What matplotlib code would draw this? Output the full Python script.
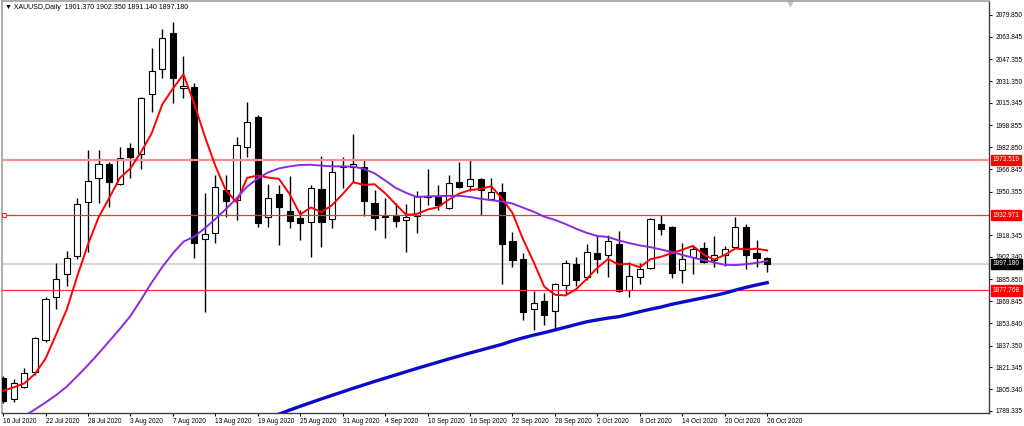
import matplotlib
matplotlib.use("Agg")
import matplotlib.pyplot as plt
import matplotlib.transforms as mtransforms
import numpy as np

plt.rcParams["font.family"] = ["Liberation Sans", "DejaVu Sans"]

# daily XAUUSD bars, 16 Jul 2020 .. 26 Oct 2020
opens = [1813.3, 1798.1, 1807.2, 1818.2, 1841.4, 1873.2, 1889.6, 1902.8, 1942.9, 1960.0,
         1970.8, 1955.6, 1982.5, 1977.6, 2021.6, 2040.2, 2066.4, 2026.0, 2027.0, 1915.3,
         1919.7, 1951.5, 1944.1, 1982.8, 2004.8, 1931.9, 1948.3, 1936.3, 1930.7, 1928.2,
         1952.2, 1929.9, 1968.1, 1968.6, 1968.1, 1941.7, 1931.4, 1932.4, 1929.5, 1932.4,
         1946.0, 1946.1, 1938.0, 1957.3, 1954.6, 1959.3, 1944.6, 1949.8, 1914.3, 1900.6,
         1863.9, 1870.0, 1862.7, 1881.8, 1897.2, 1887.4, 1905.0, 1903.5, 1911.9, 1878.1,
         1887.4, 1894.0, 1926.5, 1924.1, 1892.8, 1902.6, 1908.7, 1900.1, 1903.8, 1909.9,
         1924.6, 1905.5, 1901.37]
highs = [1815.0, 1812.6, 1820.6, 1843.4, 1873.2, 1898.2, 1906.7, 1945.8, 1980.8, 1980.8,
         1972.3, 1983.3, 1985.7, 2019.9, 2055.4, 2069.6, 2075.0, 2050.0, 2029.7, 1949.0,
         1962.5, 1962.5, 1990.6, 2015.8, 2006.5, 1955.6, 1955.1, 1961.7, 1936.8, 1955.1,
         1976.6, 1973.5, 1975.9, 1992.3, 1973.5, 1951.5, 1945.3, 1941.7, 1941.5, 1951.0,
         1966.6, 1955.1, 1962.5, 1972.3, 1973.5, 1960.0, 1960.0, 1956.3, 1920.9, 1905.0,
         1877.6, 1875.7, 1883.0, 1900.1, 1902.1, 1911.8, 1917.7, 1918.4, 1921.6, 1898.9,
         1897.7, 1930.7, 1932.9, 1925.1, 1912.8, 1910.4, 1913.6, 1917.9, 1910.4, 1931.4,
         1926.3, 1914.8, 1902.35]
lows = [1795.5, 1796.2, 1806.0, 1815.8, 1840.2, 1863.9, 1881.3, 1900.5, 1906.2, 1941.7,
        1939.2, 1955.1, 1960.0, 1966.9, 2008.9, 2033.9, 2015.0, 2019.2, 1901.3, 1862.2,
        1912.3, 1931.9, 1929.5, 1975.9, 1924.6, 1924.6, 1911.1, 1923.3, 1914.8, 1902.6,
        1909.9, 1923.3, 1952.7, 1957.6, 1932.6, 1922.1, 1916.5, 1924.6, 1906.2, 1919.7,
        1940.5, 1936.8, 1937.3, 1952.7, 1951.0, 1933.1, 1944.1, 1882.5, 1895.2, 1856.1,
        1848.8, 1852.4, 1848.8, 1875.2, 1881.3, 1885.4, 1890.3, 1887.4, 1876.9, 1873.2,
        1882.5, 1893.5, 1918.4, 1886.7, 1883.0, 1889.8, 1898.2, 1895.2, 1895.7, 1908.7,
        1893.3, 1895.2, 1891.14]
closes = [1796.9, 1810.1, 1817.5, 1842.6, 1871.5, 1885.9, 1901.3, 1940.9, 1958.1, 1970.8,
          1957.1, 1974.7, 1975.9, 2018.7, 2038.8, 2062.7, 2033.4, 2027.8, 1912.3, 1918.9,
          1953.4, 1943.6, 1984.5, 2001.6, 1927.5, 1945.8, 1938.7, 1928.7, 1927.0, 1953.2,
          1928.2, 1964.9, 1969.1, 1970.5, 1943.4, 1930.7, 1932.6, 1928.7, 1931.4, 1947.1,
          1946.8, 1940.5, 1956.3, 1953.9, 1959.3, 1951.5, 1950.2, 1911.9, 1900.1, 1862.2,
          1868.3, 1860.0, 1882.3, 1897.7, 1885.2, 1906.2, 1900.8, 1914.1, 1877.6, 1888.4,
          1893.3, 1930.2, 1922.9, 1890.8, 1900.6, 1907.9, 1898.9, 1903.8, 1907.9, 1924.6,
          1903.8, 1901.8, 1897.18]

# moving averages
ma_fast = [1804.2, 1806.7, 1809.6, 1816.5, 1827.7, 1845.5, 1863.8, 1888.4, 1911.5, 1931.4,
           1945.6, 1960.3, 1967.3, 1979.4, 1993.0, 2014.2, 2025.9, 2036.3, 2015.0, 1991.0,
           1969.2, 1951.2, 1942.5, 1960.4, 1962.1, 1960.6, 1959.6, 1948.5, 1933.5, 1938.7,
           1935.2, 1940.4, 1948.5, 1957.2, 1955.2, 1955.7, 1949.1, 1941.0, 1933.2, 1933.9,
           1937.1, 1938.9, 1944.4, 1948.9, 1951.4, 1952.3, 1954.2, 1945.4, 1934.6, 1915.2,
           1898.5, 1880.5, 1874.6, 1874.1, 1878.7, 1886.3, 1894.4, 1900.8, 1896.8, 1897.4,
           1894.8, 1900.7, 1902.5, 1905.1, 1907.6, 1910.5, 1904.2, 1900.4, 1903.8, 1908.6,
           1907.8, 1908.4, 1907.1]
ma_mid_start = 2
ma_mid = [1785.5, 1790.5, 1795.5, 1801.0, 1807.2, 1815.0, 1823.0, 1831.6, 1840.5, 1849.5,
          1859.0, 1871.0, 1883.5, 1895.0, 1905.0, 1913.6, 1917.2, 1923.3, 1930.2, 1937.5,
          1945.3, 1953.9, 1960.0, 1964.4, 1967.3, 1968.8, 1969.8, 1970.0, 1969.3, 1968.8,
          1968.8, 1968.6, 1967.0, 1963.7, 1958.5, 1953.0, 1949.3, 1946.3, 1946.8, 1947.0,
          1947.2, 1947.2, 1946.3, 1945.0, 1944.0, 1943.0, 1941.5, 1938.5, 1935.5, 1931.9,
          1929.5, 1926.5, 1923.0, 1920.0, 1917.7, 1917.0, 1914.5, 1912.5, 1910.8, 1909.5,
          1907.8, 1906.0, 1903.8, 1901.8, 1900.1, 1898.3, 1896.6, 1896.4, 1897.0, 1898.0,
          1899.4]
ma_slow_start = 26
ma_slow = [1787.0, 1790.0, 1792.8, 1795.5, 1798.2, 1800.8, 1803.4, 1806.0, 1808.5, 1811.0,
           1813.4, 1815.8, 1818.2, 1820.6, 1822.9, 1825.2, 1827.5, 1829.7, 1831.9, 1834.0,
           1836.1, 1838.2, 1840.8, 1843.0, 1845.0, 1846.8, 1848.8, 1850.8, 1852.8, 1854.8,
           1856.2, 1857.5, 1858.5, 1860.3, 1862.2, 1864.0, 1865.6, 1867.6, 1869.2, 1870.8,
           1872.4, 1874.0, 1875.8, 1878.0, 1880.0, 1881.8, 1883.5]

date_labels = ["16 Jul 2020", "22 Jul 2020", "28 Jul 2020", "3 Aug 2020", "7 Aug 2020",
               "13 Aug 2020", "19 Aug 2020", "25 Aug 2020", "31 Aug 2020", "4 Sep 2020",
               "10 Sep 2020", "16 Sep 2020", "22 Sep 2020", "28 Sep 2020", "2 Oct 2020",
               "8 Oct 2020", "14 Oct 2020", "20 Oct 2020", "26 Oct 2020"]
price_ticks = [2079.850, 2063.845, 2047.355, 2031.350, 2015.345, 1998.855, 1982.850,
               1966.845, 1950.355, 1918.345, 1902.340, 1885.850, 1869.845, 1853.840,
               1837.350, 1821.345, 1805.340, 1789.335]
level_upper = 1973.519
level_mid = 1932.971
level_lower = 1877.768
bid = 1897.180

fs = 4.7

fig = plt.figure(figsize=(10.24, 4.26), dpi=100)
ax = fig.add_axes([2 / 1024, 13.3 / 426, 987 / 1024, 411.7 / 426])

x = np.arange(len(closes))
o = np.array(opens)
c = np.array(closes)
up = c >= o

ax.vlines(x, lows, highs, color="black", lw=1.0, zorder=3)
bottoms = np.minimum(o, c)
heights = np.maximum(np.abs(c - o), 0.6)
ax.bar(x[up], heights[up], bottom=bottoms[up], width=0.58, facecolor="white",
       edgecolor="black", lw=0.8, zorder=4)
ax.bar(x[~up], heights[~up], bottom=bottoms[~up], width=0.58, facecolor="black",
       edgecolor="black", lw=0.8, zorder=4)

ax.plot(x, ma_fast, color="#ff0000", lw=1.4, zorder=6)
ax.plot(np.arange(ma_mid_start, ma_mid_start + len(ma_mid)), ma_mid, color="#8a2be2", lw=1.4, zorder=6)
ax.plot(np.arange(ma_slow_start, ma_slow_start + len(ma_slow)), ma_slow, color="#0a0acd", lw=2.4, zorder=6)

ax.axhline(bid, color="#d8d8d8", lw=1.6, zorder=1)
ax.axhline(level_upper, color="#ff8c8c", lw=1.6, zorder=5)
ax.axhline(level_mid, color="#ff3030", lw=0.9, zorder=5)
ax.axhline(level_lower, color="#ff3030", lw=0.9, zorder=5)

trans = mtransforms.blended_transform_factory(ax.transAxes, ax.transData)
ax.plot([0.002], [level_mid], marker="s", ms=3, mfc="white", mec="#ff3030", mew=0.8,
        transform=trans, clip_on=False, zorder=7)

ax.set_xlim(-0.1, 92.9)
ax.set_ylim(1788.08, 2090.12)

ax.set_xticks(x[::4])
ax.set_xticklabels(date_labels)
for lbl in ax.get_xticklabels():
    lbl.set_horizontalalignment("left")
ax.yaxis.tick_right()
ax.set_yticks(price_ticks)
ax.set_yticklabels([f"{v:.3f}" for v in price_ticks])
ax.tick_params(axis="both", direction="out", length=2.5, width=0.8, labelsize=fs,
               colors="black")
ax.tick_params(axis="x", pad=1.5)
ax.tick_params(axis="y", pad=2.5)

for side in ["right", "bottom"]:
    ax.spines[side].set_color("#404040")
    ax.spines[side].set_linewidth(1.0)
for side in ["left", "top"]:
    ax.spines[side].set_color("#a0a0a0")
    ax.spines[side].set_linewidth(1.2)

for val, fc in [(level_upper, "#ff0000"), (level_mid, "#ff0000"),
                (level_lower, "#ff0000"), (bid, "black")]:
    ax.text(1.004, val, f"{val:.3f}", transform=trans, ha="left", va="center",
            fontsize=fs, color="white", clip_on=False, zorder=10,
            bbox=dict(boxstyle="square,pad=0.25", fc=fc, ec=fc))

ax.text(0.003, 0.992, "\u25bc XAUUSD,Daily  1901.370 1902.350 1891.140 1897.180",
        transform=ax.transAxes, ha="left", va="top", fontsize=fs + 0.3, color="black")
ax.plot([790 / 1024], [423 / 426], marker="v", ms=5, color="#c8c8c8",
        transform=fig.transFigure, clip_on=False)

fig.savefig("out.png", dpi=100)
